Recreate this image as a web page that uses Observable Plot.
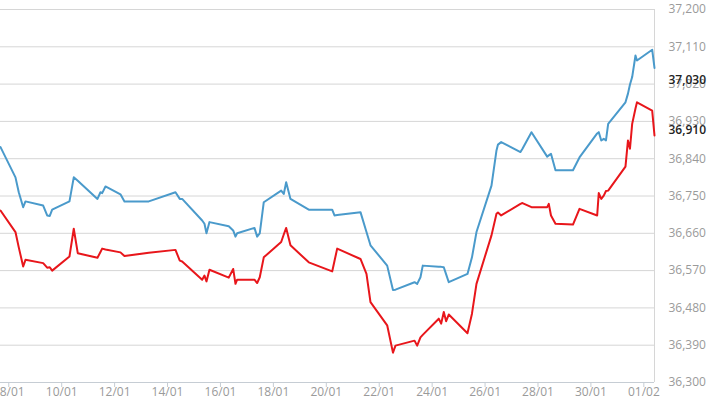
<!DOCTYPE html>
<html>
<head>
<meta charset="utf-8">
<script src="https://cdn.jsdelivr.net/npm/d3@7"></script>
<script src="https://cdn.jsdelivr.net/npm/@observablehq/plot@0.6"></script>
<style>
  html, body { margin: 0; padding: 0; background: #fff; }
  #chart svg { display: block; background: linear-gradient(to right, #ffffff 655px, #f6f6f6 655px); }
</style>
</head>
<body>
<div id="chart"></div>
<script>
const times = [
  "2024-01-07T16:30Z","2024-01-08T06:05Z","2024-01-08T09:04Z","2024-01-08T13:04Z","2024-01-08T15:09Z",
  "2024-01-09T07:12Z","2024-01-09T10:50Z","2024-01-09T13:11Z","2024-01-09T15:22Z","2024-01-10T07:03Z",
  "2024-01-10T10:57Z","2024-01-10T14:35Z","2024-01-11T08:27Z","2024-01-11T11:10Z","2024-01-11T12:43Z",
  "2024-01-11T15:42Z","2024-01-12T05:18Z","2024-01-12T08:56Z","2024-01-13T06:59Z","2024-01-14T07:12Z",
  "2024-01-14T11:06Z","2024-01-14T13:16Z","2024-01-15T07:25Z","2024-01-15T09:30Z","2024-01-15T11:19Z",
  "2024-01-15T14:02Z","2024-01-16T07:32Z","2024-01-16T11:32Z","2024-01-16T13:37Z","2024-01-16T15:09Z",
  "2024-01-17T06:50Z","2024-01-17T09:17Z","2024-01-17T11:39Z","2024-01-17T15:17Z","2024-01-18T07:04Z",
  "2024-01-18T09:25Z","2024-01-18T11:36Z","2024-01-18T15:30Z","2024-01-19T08:06Z","2024-01-20T05:20Z",
  "2024-01-20T07:25Z","2024-01-20T09:52Z","2024-01-21T07:00Z","2024-01-21T12:26Z","2024-01-21T16:04Z",
  "2024-01-22T07:13Z","2024-01-22T12:28Z","2024-01-22T14:44Z","2024-01-23T08:00Z","2024-01-23T10:25Z",
  "2024-01-23T13:24Z","2024-01-23T15:29Z","2024-01-24T06:00Z","2024-01-24T08:11Z","2024-01-24T10:33Z",
  "2024-01-24T12:42Z","2024-01-24T15:04Z","2024-01-25T08:02Z","2024-01-25T12:07Z","2024-01-25T16:12Z",
  "2024-01-26T05:49Z","2024-01-26T10:21Z","2024-01-26T11:42Z","2024-01-26T14:36Z","2024-01-27T08:06Z",
  "2024-01-27T09:55Z","2024-01-27T18:05Z","2024-01-28T08:20Z","2024-01-28T09:47Z","2024-01-28T11:47Z",
  "2024-01-28T15:52Z","2024-01-29T07:44Z","2024-01-29T13:38Z","2024-01-30T05:40Z","2024-01-30T07:07Z",
  "2024-01-30T09:23Z","2024-01-30T11:39Z","2024-01-30T13:39Z","2024-01-30T15:39Z","2024-01-31T07:20Z",
  "2024-01-31T09:36Z","2024-01-31T11:25Z","2024-01-31T13:25Z","2024-01-31T16:25Z","2024-01-31T17:47Z",
  "2024-02-01T07:34Z","2024-02-01T09:39Z"
];

// blue series (upper)
const sellPrice = [
  36868, 36795, 36759, 36723, 36737, 36727, 36703, 36702, 36717, 36737,
  36795, 36787, 36743, 36759, 36757, 36773, 36754, 36737, 36737, 36759,
  36743, 36743, 36691, 36683, 36660, 36687, 36677, 36667, 36652, 36660,
  36673, 36652, 36660, 36735, 36763, 36755, 36783, 36743, 36717, 36717,
  36703, 36704, 36711, 36663, 36631, 36582, 36523, 36524, 36542, 36538,
  36554, 36582, 36579, 36579, 36578, 36561, 36542, 36562, 36602, 36663,
  36775, 36860, 36874, 36880, 36856, 36864, 36904, 36845, 36848, 36852,
  36812, 36812, 36843, 36901, 36904, 36884, 36888, 36884, 36924, 36976,
  36997, 37019, 37037, 37089, 37077, 37103, 37059
];

// red series (lower)
const buyPrice = [
  36715, 36663, 36626, 36580, 36596, 36588, 36577, 36578, 36570, 36604,
  36671, 36612, 36601, 36615, 36623, 36621, 36614, 36605, 36613, 36620,
  36594, 36592, 36548, 36558, 36544, 36572, 36553, 36574, 36538, 36548,
  36548, 36540, 36554, 36602, 36639, 36657, 36673, 36631, 36590, 36568,
  36593, 36623, 36598, 36562, 36494, 36438, 36372, 36389, 36401, 36389,
  36409, 36415, 36454, 36442, 36470, 36448, 36464, 36419, 36466, 36538,
  36655, 36707, 36710, 36703, 36731, 36733, 36723, 36723, 36731, 36703,
  36683, 36681, 36719, 36703, 36757, 36743, 36751, 36762, 36763, 36821,
  36884, 36864, 36924, 36961, 36976, 36956, 36896
];

const xTicks = [
  "2024-01-08Z","2024-01-10Z","2024-01-12Z","2024-01-14Z","2024-01-16Z","2024-01-18Z","2024-01-20Z",
  "2024-01-22Z","2024-01-24Z","2024-01-26Z","2024-01-28Z","2024-01-30Z","2024-02-01Z"
].map(s => new Date(s.replace("Z", "T00:00Z")));
const yTicks = [36300, 36390, 36480, 36570, 36660, 36750, 36840, 36930, 37020, 37110, 37200];
const lastLabels = [37030, 36910];
const xStart = new Date("2024-01-07T16:30Z");
const xEnd = new Date("2024-02-01T09:40Z");

const sell = times.map((t, i) => ({t: new Date(t), v: sellPrice[i]}));
const buy = times.map((t, i) => ({t: new Date(t), v: buyPrice[i]}));

const fmt = d3.format(",");

const chart = Plot.plot({
  width: 710,
  height: 399,
  marginLeft: 0,
  marginRight: 56,
  marginTop: 9,
  marginBottom: 17,
  style: {fontFamily: "'Open Sans', sans-serif", fontSize: "12px", color: "#9a9a9a", background: "transparent"},
  x: {type: "utc", domain: [xStart, xEnd]},
  y: {domain: [36300, 37200]},
  marks: [
    Plot.gridY(yTicks, {stroke: "#d6d6d6", strokeOpacity: 1}),
    Plot.ruleX([xEnd], {stroke: "#d6d6d6"}),
    Plot.axisY(yTicks, {anchor: "right", tickSize: 0, tickPadding: 14, tickFormat: fmt, label: null, fill: "#9a9a9a"}),
    Plot.axisX(xTicks, {anchor: "bottom", tickSize: 5, tickPadding: 0, tickFormat: d3.utcFormat("%d/%m"), label: null, stroke: "#c6cdd4", fill: "#9a9a9a"}),
    Plot.ruleY([36300], {stroke: "#c6cdd4"}),
    Plot.line(sell, {x: "t", y: "v", stroke: "#4a9acb", strokeWidth: 2}),
    Plot.line(buy, {x: "t", y: "v", stroke: "#e8161b", strokeWidth: 2}),
    Plot.text(lastLabels, {y: d => d, text: d => fmt(d), frameAnchor: "right", dx: 14, textAnchor: "start", fill: "#222", fontWeight: 600, fontSize: 12})
  ]
});
document.getElementById("chart").appendChild(chart);
</script>
</body>
</html>
